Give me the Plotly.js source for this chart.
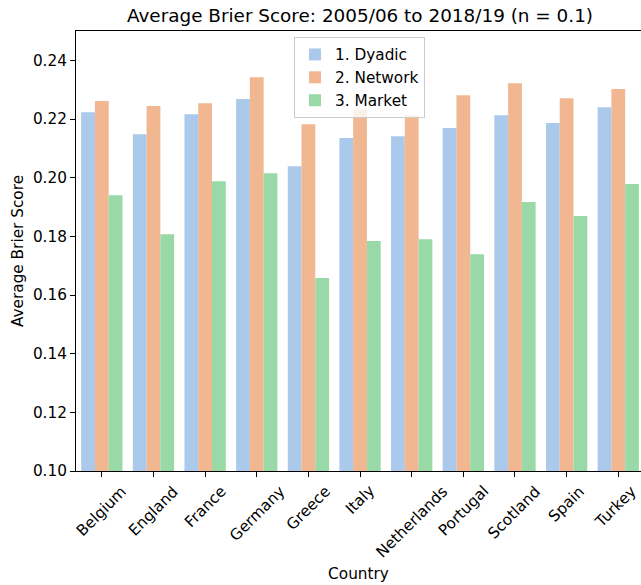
<!DOCTYPE html>
<html>
<head>
<meta charset="utf-8">
<script src="https://cdn.plot.ly/plotly-3.0.1.min.js"></script>
<style>html,body{margin:0;padding:0;background:#fff;}#chart{width:641px;height:585px;}</style>
</head>
<body>
<div id="chart"></div>
<script>
const countries = ["Belgium","England","France","Germany","Greece","Italy","Netherlands","Portugal","Scotland","Spain","Turkey"];
const seriesNames = ["1. Dyadic","2. Network","3. Market"];
const dyadic  = [0.2223,0.2148,0.2216,0.2268,0.2039,0.2135,0.2141,0.2169,0.2213,0.2186,0.2240];
const network = [0.2261,0.2244,0.2254,0.2342,0.2182,0.2232,0.2213,0.2281,0.2322,0.2271,0.2302];
const market  = [0.1940,0.1807,0.1988,0.2015,0.1658,0.1784,0.1790,0.1739,0.1917,0.1869,0.1978];
const yTicks = [0.10,0.12,0.14,0.16,0.18,0.20,0.22,0.24];

const colors = ["#abc9ea","#f0b790","#98d9a7"];
const seriesValues = [dyadic, network, market];
const FONT = "DejaVu Sans, sans-serif";
const FS = 15.3;

const traces = seriesValues.map((vals, i) => ({
  type: "bar",
  name: seriesNames[i],
  x: countries,
  y: vals,
  marker: {color: colors[i], line: {width: 0}},
  legendgroup: "g" + i,
  hoverinfo: "x+y+name"
}));

// category labels: rotated 45 degrees and centred under each tick (matplotlib style)
const catAnnotations = countries.map((c, i) => ({
  x: c, xref: "x", y: -0.026, yref: "paper",
  text: c, showarrow: false, textangle: -45,
  xanchor: "center", yanchor: "top",
  xshift: i === countries.length - 1 ? -3 : 0,
  borderpad: 0, borderwidth: 0,
  font: {family: FONT, size: FS, color: "#000"}
}));

const layout = {
  width: 641, height: 585,
  margin: {l: 76, r: 0, t: 31, b: 114, pad: 0},
  paper_bgcolor: "#fff", plot_bgcolor: "#fff",
  font: {family: FONT, size: FS, color: "#000"},
  title: {
    text: "Average Brier Score: 2005/06 to 2018/19 (n = 0.1)",
    font: {family: FONT, size: 18.4, color: "#000"},
    x: 360/641, xref: "container", xanchor: "center",
    y: 1 - 16/585, yref: "container", yanchor: "middle"
  },
  barmode: "group", bargap: 0.2, bargroupgap: 0,
  xaxis: {
    type: "category",
    range: [-0.5, 10.44],
    showline: true, linecolor: "#000", linewidth: 1, mirror: true,
    ticks: "outside", ticklen: 5, tickwidth: 1, tickcolor: "#000",
    showticklabels: false, showgrid: false, zeroline: false,
    title: {text: "Country", font: {family: FONT, size: FS, color: "#000"}, standoff: 92}
  },
  yaxis: {
    range: [0.10, 0.25],
    tickvals: yTicks, tickformat: ".2f",
    showline: true, linecolor: "#000", linewidth: 1, mirror: false,
    ticks: "outside", ticklen: 5, tickwidth: 1, tickcolor: "#000",
    tickfont: {family: FONT, size: FS, color: "#000"},
    showgrid: false, zeroline: false, automargin: false,
    title: {text: "Average Brier Score", font: {family: FONT, size: FS, color: "#000"}, standoff: 5}
  },
  legend: {
    x: (294-76)/565, y: (471-37)/440, xanchor: "left", yanchor: "top",
    bgcolor: "rgba(255,255,255,0.8)", bordercolor: "#cccccc", borderwidth: 1,
    font: {family: FONT, size: FS, color: "#000"},
    tracegroupgap: 1, traceorder: "normal"
  },
  annotations: catAnnotations,
  showlegend: true
};

Plotly.newPlot("chart", traces, layout, {displayModeBar: false, staticPlot: true});
</script>
</body>
</html>
